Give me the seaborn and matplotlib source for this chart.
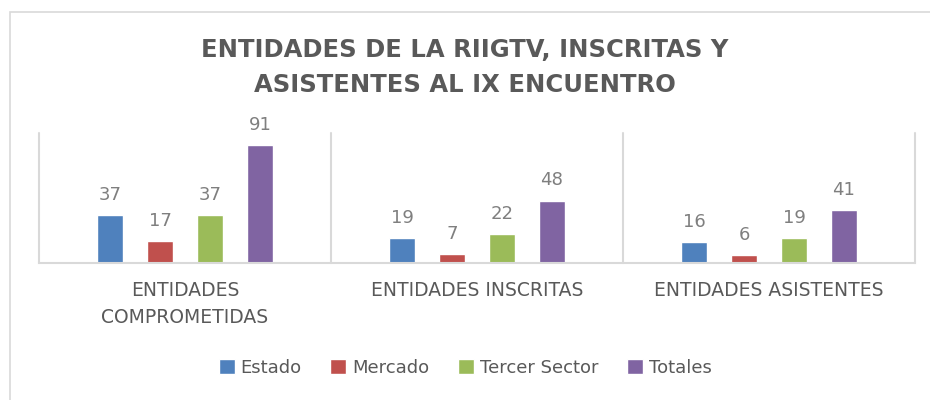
import pandas as pd
import seaborn as sns
import matplotlib.pyplot as plt
from matplotlib.patches import Rectangle

categories = ['ENTIDADES\nCOMPROMETIDAS', 'ENTIDADES INSCRITAS', 'ENTIDADES ASISTENTES']
series = ['Estado', 'Mercado', 'Tercer Sector', 'Totales']
estado = [37, 19, 16]
mercado = [17, 7, 6]
tercer_sector = [37, 22, 19]
totales = [91, 48, 41]
colors = ['#4F81BD', '#C0504D', '#9BBB59', '#8064A2']

rows = []
for name, vals in zip(series, [estado, mercado, tercer_sector, totales]):
    for cat, v in zip(categories, vals):
        rows.append({'cat': cat, 'serie': name, 'valor': v})
df = pd.DataFrame(rows)

sns.set_style('white')
plt.rcParams['font.family'] = ['DejaVu Sans']

fig = plt.figure(figsize=(9.3, 4), dpi=100)
ax = fig.add_axes([0.0419, 0.3425, 0.942, 0.325])

sns.barplot(data=df, x='cat', y='valor', hue='serie', palette=colors,
            saturation=1, width=0.684, gap=0.48, ax=ax, legend=True)

ax.set_ylim(0, 100)
ax.set_xlim(-0.5, 2.5)
ax.set_xlabel('')
ax.set_ylabel('')
ax.set_yticks([])
for s in ['top', 'right', 'left']:
    ax.spines[s].set_visible(False)
ax.spines['bottom'].set_color('#D9D9D9')
ax.spines['bottom'].set_linewidth(1.5)
for xb in [-0.5, 0.5, 1.5, 2.5]:
    ax.axvline(xb, color='#D9D9D9', lw=1.5, clip_on=False)

ax.tick_params(axis='x', length=0, pad=13, labelsize=13.5, labelcolor='#595959')
for lbl in ax.get_xticklabels():
    lbl.set_linespacing(1.5)

for cont in ax.containers:
    ax.bar_label(cont, padding=8, fontsize=13, color='#7F7F7F')

leg = ax.legend(loc='center', bbox_to_anchor=(0.5, 0.08), bbox_transform=fig.transFigure,
                ncol=4, frameon=False, fontsize=13, handlelength=0.9, handleheight=0.9,
                handletextpad=0.3, columnspacing=1.6)
for t in leg.get_texts():
    t.set_color('#595959')

fig.text(0.5, 0.831, 'ENTIDADES DE LA RIIGTV, INSCRITAS Y\nASISTENTES AL IX ENCUENTRO',
         ha='center', va='center', fontsize=17.5, fontweight='bold', color='#595959',
         linespacing=1.55)

fig.patches.append(Rectangle((0.0108, -0.1), 1.2, 1.07, transform=fig.transFigure,
                             fill=False, edgecolor='#D9D9D9', lw=1.2))

fig.savefig('out.png', dpi=100)
